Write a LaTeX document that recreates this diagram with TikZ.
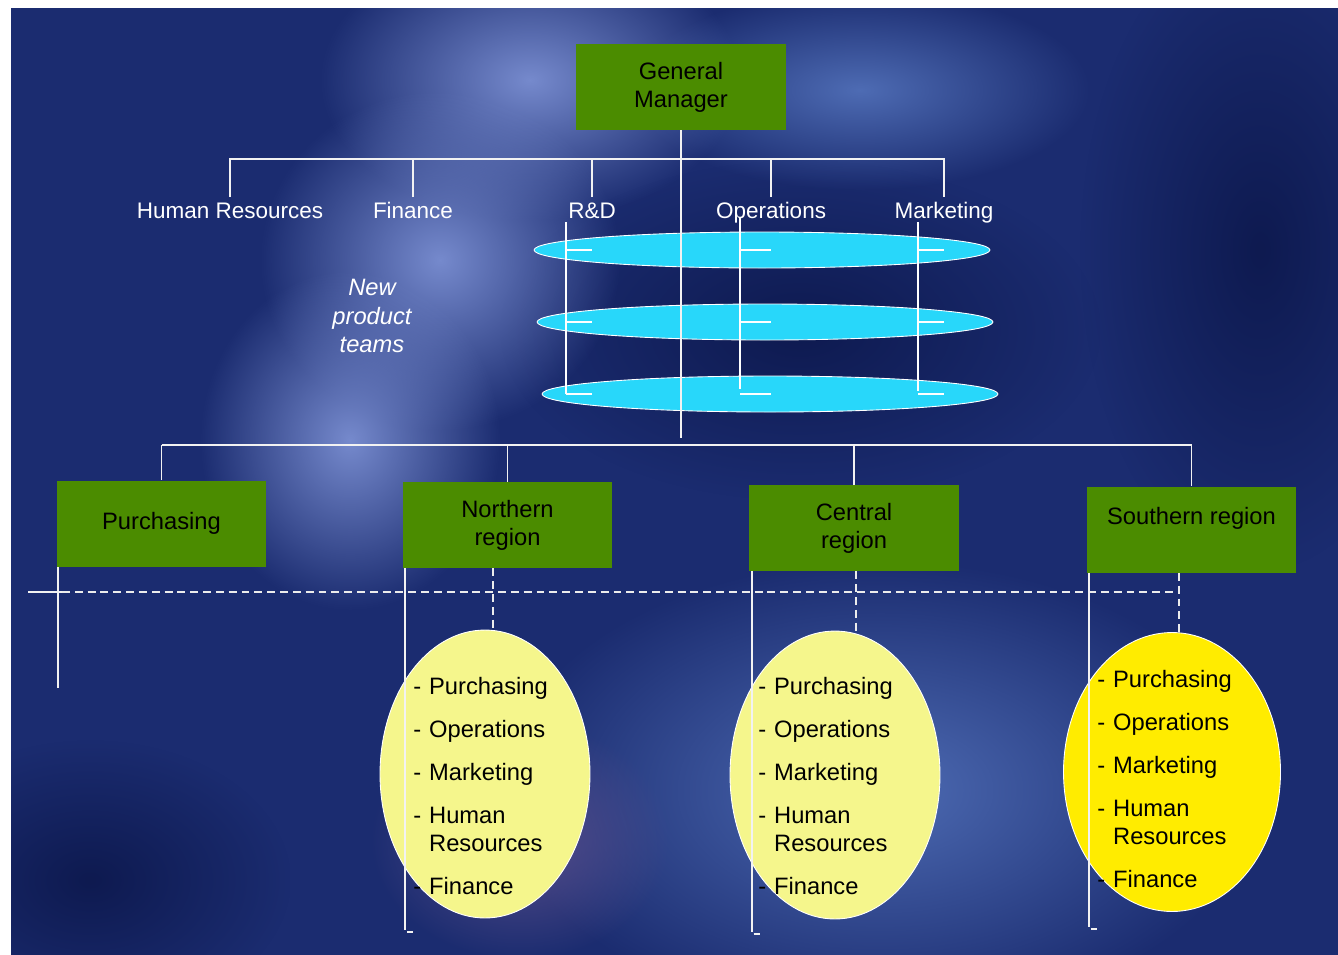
\documentclass[tikz,border=0pt]{standalone}
\usepackage{fontspec}
\setmainfont{Liberation Sans}
\usetikzlibrary{shapes.geometric, fadings}
\definecolor{bgbase}{RGB}{27,44,112}
\definecolor{bgdark}{RGB}{14,26,80}
\definecolor{bglight}{RGB}{118,138,205}
\definecolor{bgmid}{RGB}{78,108,180}
\definecolor{bgplum}{RGB}{88,78,140}
\definecolor{boxgreen}{RGB}{75,140,0}
\definecolor{teamcyan}{RGB}{40,215,250}
\definecolor{palelemon}{RGB}{245,246,140}
\definecolor{lemon}{RGB}{255,236,0}
\tikzfading[name=glow, inner color=transparent!0, outer color=transparent!100]
\newcommand{\orgfont}{\fontsize{13.5}{16}\selectfont}
\newcommand{\deptlist}{\begin{tabular}[t]{@{}l@{\hspace{4.5pt}}l@{}}
- & Purchasing\\[8.5pt]
- & Operations\\[8.5pt]
- & Marketing\\[8.5pt]
- & Human\\
  & Resources\\[8.5pt]
- & Finance
\end{tabular}}
\begin{document}
\begin{tikzpicture}[x=0.02cm, y=-0.02cm]
        \tikzstyle{every node} = [font=\orgfont]
        \tikzstyle{unitbox} = [rectangle, fill=boxgreen, text=black, align=center, inner sep=0pt, minimum width=4.2cm, minimum height=1.72cm]
        \tikzstyle{funclabel} = [text=white, font=\fontsize{12.8}{16}\selectfont, inner sep=2pt, text height=9.7pt, text depth=2.8pt]
        \tikzstyle{team} = [ellipse, draw=white, line width=0.5pt, fill=teamcyan, inner sep=0pt, minimum width=9.12cm, minimum height=0.72cm]
        \tikzstyle{region} = [ellipse, draw=white, line width=0.5pt, inner sep=0pt, minimum width=4.2cm, minimum height=5.76cm]
        \tikzstyle{orgline} = [draw=white!90!gray, line width=1.1pt]
        \tikzstyle{thinline} = [draw=white, line width=0.6pt]
        \tikzstyle{dashline} = [draw=white!85!gray, line width=0.9pt, dash pattern=on 4.5pt off 2.8pt]
        \tikzstyle{glowpatch} = [path fading=glow]

        % background
        \useasboundingbox (0,0) rectangle (1338,954);
        \fill[white] (0,0) rectangle (1338,954);
        \begin{scope}
            \clip (11,8) rectangle (1338,954);
            \fill[bgbase] (0,0) rectangle (1350,970);
            \foreach \c/\x/\y/\a/\b in {bgdark/800/330/300/170, bgdark/1260/250/180/320,
                    bgdark/90/880/200/140, bglight/530/80/210/140, bglight/440/260/180/170,
                    bglight/350/440/150/170, bgmid/860/90/230/100, bgmid/880/790/380/230,
                    bgplum/520/840/150/120}
                \fill[\c, glowpatch] ({\x-\a},{\y-\b}) rectangle ({\x+\a},{\y+\b});
        \end{scope}

        % functions
        \node[unitbox](gm) at (681,87){General\\Manager};
        \node[funclabel](hr) at (230,212){Human Resources};
        \node[funclabel](fin) at (413,212){Finance};
        \node[funclabel](rd) at (592,212){R\&D};
        \node[funclabel](ops) at (771,212){Operations};
        \node[funclabel](mkt) at (944,212){Marketing};
        \coordinate(topbar) at (0,159);
        \coordinate(gmfoot) at (0,438);

        % product teams
        \node[team](team1) at (762,250){};
        \node[team](team2) at (765,322){};
        \node[team](team3) at (770,394){};
        \node[text=white, font=\orgfont\itshape, align=center](npt) at (372,316){New\\product\\teams};

        % regions
        \node[unitbox](pur) at (161.5,523.5){Purchasing};
        \node[unitbox](nor) at (507.5,525){Northern\\region};
        \node[unitbox](cen) at (854,528){Central\\region};
        \node[unitbox](sou) at (1191.5,529.5){Southern region\\~};
        \coordinate(lowbar) at (0,445);
        \coordinate(dashrow) at (28,592);

        \node[region, fill=palelemon](ellnor) at (485,774){};
        \node[region, fill=palelemon](ellcen) at (835,775){};
        \node[region, fill=lemon, minimum width=4.34cm, minimum height=5.58cm](ellsou) at (1172,772){};
        \node[anchor=base west, inner sep=0pt](norlist) at (413,694){\deptlist};
        \node[anchor=base west, inner sep=0pt](cenlist) at (758,694){\deptlist};
        \node[anchor=base west, inner sep=0pt](soulist) at (1097,687){\deptlist};

        % lines of the top part
        \draw[orgline] (gm.south) -- (gm.south |- gmfoot);
        \draw[orgline] (hr.north) |- (mkt.north |- topbar) -- (mkt.north);
        \foreach \f in {fin, rd, ops}
            \draw[orgline] (\f.north) -- (\f.north |- topbar);
        \foreach \x/\f/\top/\bot in {566/rd/222/394, 740/ops/218/389, 918/mkt/222/391}{
            \draw[thinline] (\x,\top) -- (\x,\bot);
            \foreach \t in {team1, team2, team3}
                \draw[thinline] (\x,0 |- \t) -- (\f.north |- \t);
        }

        % lines of the lower part
        \draw[orgline] (pur.north |- lowbar) -- (sou.north |- lowbar);
        \foreach \b in {pur, nor, cen, sou}
            \draw[orgline] (\b.north |- lowbar) -- (\b.north);
        \draw[orgline] (dashrow) -- ++(34,0);
        \draw[dashline] ([xshift=0.68cm]dashrow) -- ([xshift=-0.25cm]sou.south |- dashrow);
        \draw[orgline] ([xshift=0.04cm]pur.south west) -- ++(0,121);
        \foreach \b/\len in {nor/362, cen/361, sou/354}
            \draw[orgline] ([xshift=0.06cm]\b.south west) -- ++(0,\len) ++(2,2) -- ++(6,0);
        \foreach \b/\s in {nor/-0.29, cen/0.04, sou/-0.25}
            \draw[dashline] ([xshift=\s cm]\b.south) -- ([xshift=\s cm]\b.south |- ell\b.north);
\end{tikzpicture}
\end{document}
